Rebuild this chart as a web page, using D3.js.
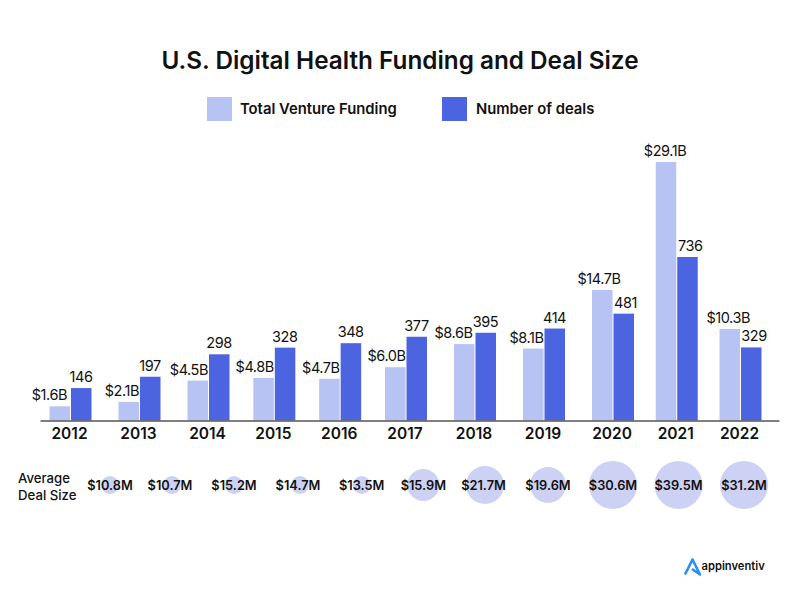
<!DOCTYPE html>
<html>
<head>
<meta charset="utf-8">
<script src="https://cdn.jsdelivr.net/npm/d3@7"></script>
<style>
    body { margin: 0; background: #fff; }
    text { font-family: "Inter", sans-serif; fill: #111; }
</style>
</head>
<body>
<div id="chart"></div>
<script>
// Values
const years = [2012, 2013, 2014, 2015, 2016, 2017, 2018, 2019, 2020, 2021, 2022];
const funding = [1.6, 2.1, 4.5, 4.8, 4.7, 6.0, 8.6, 8.1, 14.7, 29.1, 10.3];
const deals = [146, 197, 298, 328, 348, 377, 395, 414, 481, 736, 329];
const avgDealSize = [10.8, 10.7, 15.2, 14.7, 13.5, 15.9, 21.7, 19.6, 30.6, 39.5, 31.2];
const seriesNames = ['Total Venture Funding', 'Number of deals'];

const width = 800;
const height = 600;
const baseline = 420.5;
const barWidth = 20.5;
const lightColor = '#b7c4f3';
const darkColor = '#4d64e0';
const bubbleColor = '#cdd2f5';

const svg = d3.select('#chart')
    .append('svg')
    .attr('width', width)
    .attr('height', height);

// The groups are not evenly spaced in the original, so the scales have a few breakpoints
const xScale = d3.scaleLinear()
    .domain([2011.558, 2014, 2017, 2020, 2022, 2022.6])
    .range([40, 208.5, 406, 613, 740.5, 779]);

const bubbleX = d3.scaleLinear()
    .domain([2012, 2014, 2015, 2018, 2019, 2020, 2022])
    .range([110, 234, 300, 485, 548, 613, 744]);

const yFunding = d3.scaleLinear().domain([0, 29.1]).range([baseline, 162]);
const yDeals = d3.scaleLinear().domain([0, 736]).range([baseline, 257]);

const bubbleR = d3.scaleLinear()
    .domain([10.7, 15.2, 15.9, 21.7, 30.6, 39.5])
    .range([9, 9, 16, 19, 24, 24]);

// Title
svg.append('text')
    .attr('x', 400)
    .attr('y', 69)
    .attr('text-anchor', 'middle')
    .style('font-size', '24.3px')
    .style('font-weight', 600)
    .text('U.S. Digital Health Funding and Deal Size');

// Legend
const legend = svg.append('g').selectAll('g')
    .data(seriesNames)
    .join('g')
    .attr('transform', (d, i) => `translate(${i === 0 ? 207 : 442},97)`);

legend.append('rect')
    .attr('width', 25)
    .attr('height', 24)
    .attr('fill', (d, i) => i === 0 ? lightColor : darkColor);

legend.append('text')
    .attr('x', (d, i) => i === 0 ? 33 : 34)
    .attr('y', 17)
    .style('font-size', '14.8px')
    .style('font-weight', 600)
    .text(d => d);

// Bars
svg.append('g')
    .selectAll('rect')
    .data(years)
    .join('rect')
    .attr('x', d => xScale(d) - barWidth - 0.5)
    .attr('width', barWidth)
    .attr('y', (d, i) => yFunding(funding[i]))
    .attr('height', (d, i) => baseline - yFunding(funding[i]))
    .attr('fill', lightColor);

svg.append('g')
    .selectAll('rect')
    .data(years)
    .join('rect')
    .attr('x', d => xScale(d) + 0.5)
    .attr('width', barWidth)
    .attr('y', (d, i) => yDeals(deals[i]))
    .attr('height', (d, i) => baseline - yDeals(deals[i]))
    .attr('fill', darkColor);

// Value labels. Funding labels sit against the right edge of the light bar
const fundingShift = { 2012: -3, 2018: -2, 2020: 8, 2021: 10, 2022: 10 };
const dealsShift = { 2020: 2, 2021: 3, 2022: 3 };

svg.append('g')
    .selectAll('text')
    .data(years)
    .join('text')
    .attr('x', d => xScale(d) - 0.5 + (fundingShift[d] || 0))
    .attr('y', (d, i) => yFunding(funding[i]) - 6)
    .attr('text-anchor', 'end')
    .style('font-size', '14.5px')
    .style('letter-spacing', '-0.45px')
    .text((d, i) => `$${funding[i].toFixed(1)}B`);

svg.append('g')
    .selectAll('text')
    .data(years)
    .join('text')
    .attr('x', d => xScale(d) + 10.5 + (dealsShift[d] || 0))
    .attr('y', (d, i) => yDeals(deals[i]) - 6)
    .attr('text-anchor', 'middle')
    .style('font-size', '14.5px')
    .style('letter-spacing', '-0.45px')
    .text((d, i) => deals[i]);

// X axis
const xAxis = svg.append('g')
    .attr('transform', `translate(0,${baseline})`)
    .call(d3.axisBottom(xScale)
        .tickValues(years)
        .tickFormat(d3.format('d'))
        .tickSize(0)
        .tickPadding(7));

xAxis.select('.domain').attr('stroke', '#555').attr('stroke-width', 1.5);
xAxis.selectAll('text')
    .attr('dx', -1.5)
    .style('font-family', '"Inter", sans-serif')
    .style('font-size', '15.5px')
    .style('font-weight', 600);

// Average deal size row
svg.append('text')
    .attr('y', 483)
    .style('font-size', '13.2px')
    .style('font-weight', 500)
    .selectAll('tspan')
    .data(['Average', 'Deal Size'])
    .join('tspan')
    .attr('x', 18)
    .attr('dy', (d, i) => i === 0 ? 0 : 17)
    .text(d => d);

svg.append('g')
    .selectAll('circle')
    .data(years)
    .join('circle')
    .attr('cx', d => bubbleX(d))
    .attr('cy', 485)
    .attr('r', (d, i) => bubbleR(avgDealSize[i]))
    .attr('fill', bubbleColor);

const bubbleLabelShift = { 2013: -2, 2015: -2, 2018: -1.5 };

svg.append('g')
    .selectAll('text')
    .data(years)
    .join('text')
    .attr('x', d => bubbleX(d) + (bubbleLabelShift[d] || 0))
    .attr('y', 490)
    .attr('text-anchor', 'middle')
    .style('font-size', '12.8px')
    .style('font-weight', 600)
    .text((d, i) => `$${avgDealSize[i]}M`);

// Logo
svg.append('path')
    .attr('d', 'M685,574.5 L692.5,559.5 L700,574.5 L692,569')
    .attr('fill', 'none')
    .attr('stroke', '#2a90f0')
    .attr('stroke-width', 2.6)
    .attr('stroke-linejoin', 'round');

svg.append('text')
    .attr('x', 701.5)
    .attr('y', 570)
    .style('font-size', '11.2px')
    .style('font-weight', 600)
    .text('appinventiv');
</script>
</body>
</html>
